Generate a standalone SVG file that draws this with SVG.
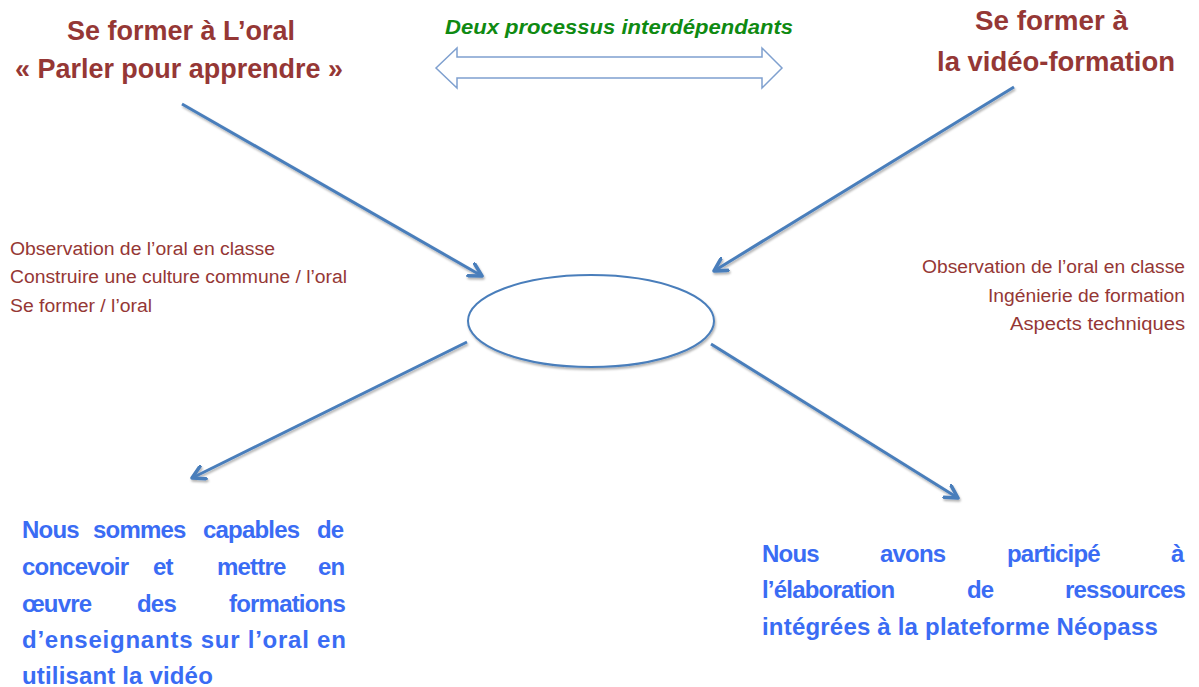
<svg xmlns="http://www.w3.org/2000/svg" width="1199" height="687" viewBox="0 0 1199 687">
<style>
.title{font-family:"Liberation Sans",Arial,sans-serif;font-weight:bold;font-size:28px;fill:#953735;}
.small{font-family:"Liberation Sans",Arial,sans-serif;font-size:18px;fill:#953735;}
.green{font-family:"Liberation Sans",Arial,sans-serif;font-weight:bold;font-style:italic;font-size:21px;fill:#0f8a12;}
.blue{font-family:"Liberation Sans",Arial,sans-serif;font-weight:bold;font-size:24px;fill:#3a6cf4;letter-spacing:-0.8px;}
.conn{stroke:#4a7ebb;stroke-width:3;fill:none;filter:url(#sh);}
</style>
<defs>
<filter id="sh" x="-10%" y="-10%" width="120%" height="130%">
<feDropShadow dx="1" dy="2" stdDeviation="1.2" flood-color="#000" flood-opacity="0.3"/>
</filter>
<marker id="ah" viewBox="0 0 12 12" refX="10" refY="6" markerWidth="5.5" markerHeight="5.5" orient="auto" markerUnits="strokeWidth">
<path d="M1,1 L10,6 L1,11" fill="none" stroke="#4a7ebb" stroke-width="2.6" stroke-linecap="round" stroke-linejoin="round"/>
</marker>
</defs>
<rect width="1199" height="687" fill="#ffffff"/>

<g id="node-oral">
<text class="title" x="67" y="40" textLength="228" lengthAdjust="spacingAndGlyphs">Se former à L’oral</text>
<text class="title" x="15" y="78" textLength="328" lengthAdjust="spacingAndGlyphs">« Parler pour apprendre »</text>
</g>

<g id="node-video">
<text class="title" x="975" y="30" textLength="153" lengthAdjust="spacingAndGlyphs">Se former à</text>
<text class="title" x="937" y="71" textLength="238" lengthAdjust="spacingAndGlyphs">la vidéo-formation</text>
</g>

<g id="node-interdep">
<text class="green" x="445" y="34" textLength="348" lengthAdjust="spacingAndGlyphs">Deux processus interdépendants</text>
<polygon points="436,68 457,48 457,57 762,57 762,48 782,68 762,88 762,78 457,78 457,88" fill="#ffffff" stroke="#7fa0cf" stroke-width="1.5" stroke-linejoin="miter"/>
</g>

<g id="node-left-list">
<text class="small" x="10" y="255" textLength="265" lengthAdjust="spacingAndGlyphs">Observation de l’oral en classe</text>
<text class="small" x="10" y="283" textLength="337" lengthAdjust="spacingAndGlyphs">Construire une culture commune / l’oral</text>
<text class="small" x="10" y="312" textLength="142" lengthAdjust="spacingAndGlyphs">Se former / l’oral</text>
</g>

<g id="node-right-list">
<text class="small" x="922" y="273" textLength="263" lengthAdjust="spacingAndGlyphs">Observation de l’oral en classe</text>
<text class="small" x="988" y="302" textLength="197" lengthAdjust="spacingAndGlyphs">Ingénierie de formation</text>
<text class="small" x="1010" y="330" textLength="175" lengthAdjust="spacingAndGlyphs">Aspects techniques</text>
</g>

<g id="node-center">
<ellipse cx="591" cy="321" rx="123" ry="46" fill="#ffffff" stroke="#4a7ebb" stroke-width="2" filter="url(#sh)"/>
</g>

<g id="node-result-left">
<text class="blue" y="538"><tspan x="22">Nous</tspan><tspan x="93">sommes</tspan><tspan x="203">capables</tspan><tspan x="317">de</tspan></text>
<text class="blue" y="575"><tspan x="22">concevoir</tspan><tspan x="153">et</tspan><tspan x="217">mettre</tspan><tspan x="318">en</tspan></text>
<text class="blue" y="612"><tspan x="22">œuvre</tspan><tspan x="137">des</tspan><tspan x="229">formations</tspan></text>
<text class="blue" x="22" y="648" textLength="323" lengthAdjust="spacing">d’enseignants sur l’oral en</text>
<text class="blue" x="22" y="684" textLength="190" lengthAdjust="spacing">utilisant la vidéo</text>
</g>

<g id="node-result-right">
<text class="blue" y="562"><tspan x="762">Nous</tspan><tspan x="880">avons</tspan><tspan x="1007">participé</tspan><tspan x="1171">à</tspan></text>
<text class="blue" y="598"><tspan x="762">l’élaboration</tspan><tspan x="967">de</tspan><tspan x="1065">ressources</tspan></text>
<text class="blue" x="762" y="635" textLength="395" lengthAdjust="spacing">intégrées à la plateforme Néopass</text>
</g>

<g id="connectors">
<line class="conn" x1="182" y1="104" x2="482" y2="276" marker-end="url(#ah)"/>
<line class="conn" x1="1014" y1="87" x2="714" y2="271" marker-end="url(#ah)"/>
<line class="conn" x1="467" y1="342" x2="192" y2="478" marker-end="url(#ah)"/>
<line class="conn" x1="711" y1="344" x2="958" y2="498" marker-end="url(#ah)"/>
</g>
</svg>
